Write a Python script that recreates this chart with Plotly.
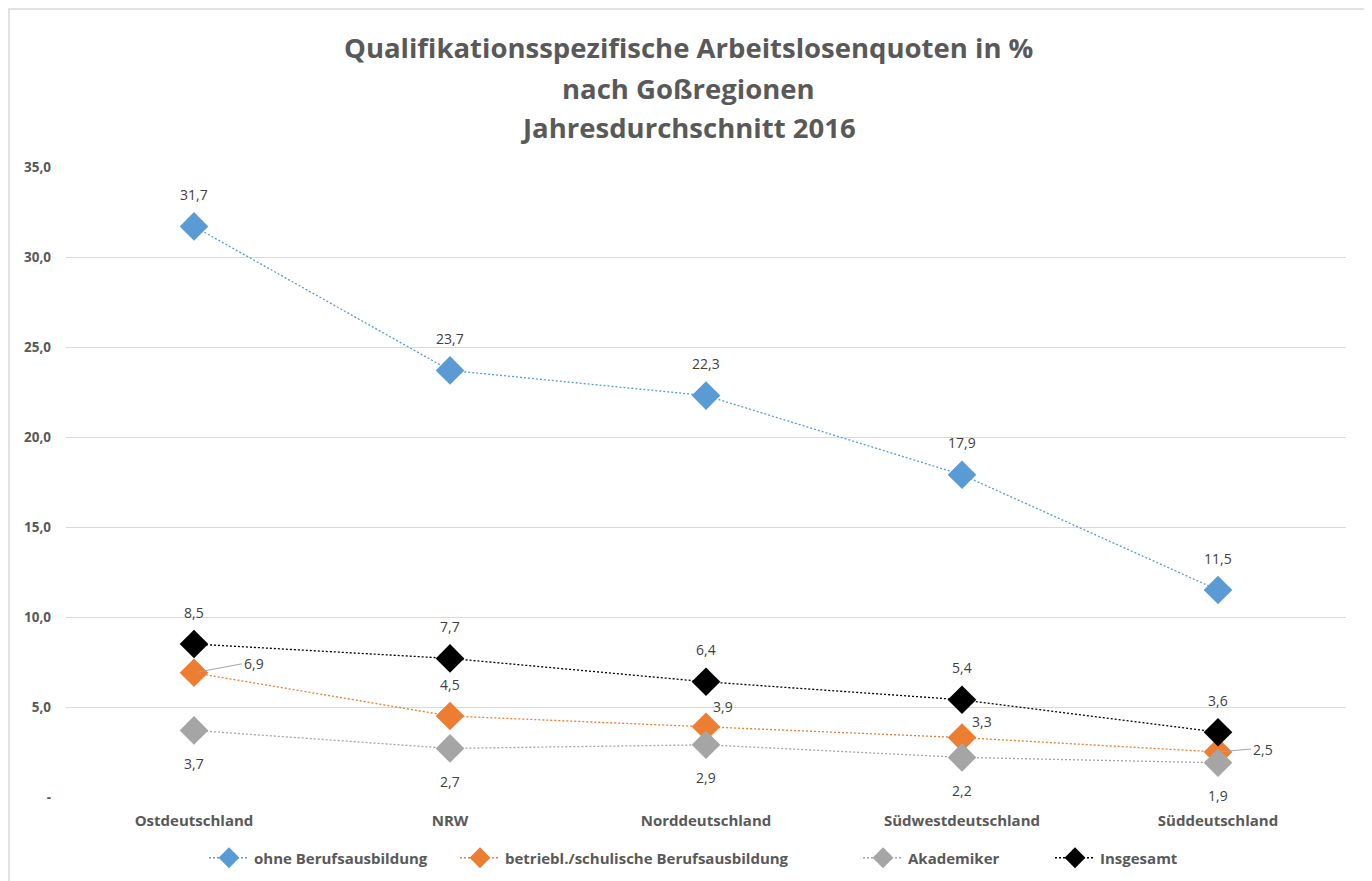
import plotly.graph_objects as go

regions = ["Ostdeutschland", "NRW", "Norddeutschland", "Südwestdeutschland", "Süddeutschland"]
ohne = [31.7, 23.7, 22.3, 17.9, 11.5]
betriebl = [6.9, 4.5, 3.9, 3.3, 2.5]
akademiker = [3.7, 2.7, 2.9, 2.2, 1.9]
insgesamt = [8.5, 7.7, 6.4, 5.4, 3.6]

series_names = ["ohne Berufsausbildung", "betriebl./schulische Berufsausbildung", "Akademiker", "Insgesamt"]
y_ticks = [0, 5, 10, 15, 20, 25, 30, 35]
y_ticktext = ["-", "5,0", "10,0", "15,0", "20,0", "25,0", "30,0", "35,0"]
title_lines = ["Qualifikationsspezifische Arbeitslosenquoten in %", "nach Goßregionen", "Jahresdurchschnitt 2016"]

# ---- styling ----
colors = ["#5B9BD5", "#ED7D31", "#A5A5A5", "#000000"]
# label placement per series/point: (anchor, xshift px, yshift px, leader line)
C_UP = ("center", 0, 32, False)
C_DN = ("center", 0, -33, False)
label_style = [
    [C_UP] * 5,
    [("left", 34, 9, True), C_UP, ("left", 5, 20, False), ("left", 8, 16, False), ("left", 19, 3, True)],
    [C_DN] * 5,
    [C_UP] * 5,
]
legend_left_px = [204, 455, 858, 1050]
FONT = "Open Sans"
GREY = "#595959"

# page body adds an 8px offset, so the figure coordinates are shifted by 8px
OFF = 8
W, H = 1372 - OFF, 881 - OFF
L, R = 66 - OFF, 26
T, B = 167 - OFF, 84
ph = H - T - B
pw = W - L - R


def px_x(x):
    return (x - OFF - L) / pw


def px_y(y):
    return (H - B - (y - OFF)) / ph


fig = go.Figure()
annotations = []
legends = {}
for i, (name, vals, col, styles) in enumerate(zip(series_names, [ohne, betriebl, akademiker, insgesamt], colors, label_style)):
    lg = "legend" if i == 0 else "legend%d" % (i + 1)
    legends[lg] = dict(orientation="h", x=px_x(legend_left_px[i]), xanchor="left", y=px_y(858), yanchor="middle",
                       font=dict(family=FONT, size=15, color=GREY, weight="bold"), itemwidth=40,
                       bgcolor="rgba(0,0,0,0)")
    fig.add_trace(go.Scatter(
        x=regions, y=vals, name=name, mode="lines+markers", legend=lg,
        line=dict(color=col, width=1.3, dash="2px,2px"),
        marker=dict(symbol="diamond", size=22, color=col),
        cliponaxis=False,
    ))
    for xv, yv, (anc, dx, dy, leader) in zip(regions, vals, styles):
        txt = ("%.1f" % yv).replace(".", ",")
        if leader:
            annotations.append(dict(
                x=xv, y=yv, xref="x", yref="y", text=txt, showarrow=True,
                arrowhead=0, arrowwidth=1, arrowcolor="#A5A5A5", standoff=3,
                ax=dx + 14, ay=-dy, xanchor="left", yanchor="middle",
                font=dict(family=FONT, size=14, color="#404040")))
        else:
            annotations.append(dict(
                x=xv, y=yv, xref="x", yref="y", text=txt, showarrow=False,
                xanchor=anc, yanchor="middle", xshift=dx, yshift=dy,
                font=dict(family=FONT, size=14, color="#404040")))

for line, ypx in zip(title_lines, [47, 88, 127]):
    annotations.append(dict(
        text="<b>%s</b>" % line, xref="paper", yref="paper",
        x=px_x(688), y=px_y(ypx), xanchor="center", yanchor="middle", showarrow=False,
        font=dict(family=FONT, size=27.5, color=GREY)))

fig.update_layout(
    width=W, height=H,
    margin=dict(l=L, r=R, t=T, b=B, autoexpand=False),
    paper_bgcolor="white", plot_bgcolor="white",
    showlegend=True,
    xaxis=dict(showgrid=False, showline=False, zeroline=False, ticks="", automargin=False,
               tickfont=dict(family=FONT, size=15, color=GREY, weight="bold"),
               range=[-0.5, 4.5], ticklabelstandoff=13),
    yaxis=dict(range=[0, 35], tickvals=y_ticks, ticktext=y_ticktext, automargin=False,
               showgrid=True, gridcolor="#D9D9D9", gridwidth=1, zeroline=False, showline=False,
               tickfont=dict(family=FONT, size=13.5, color=GREY, weight="bold"), ticks="",
               ticklabelstandoff=14),
    annotations=annotations,
    shapes=[dict(type="rect", xref="paper", yref="paper",
                 x0=px_x(9), x1=px_x(1369), y0=px_y(900), y1=px_y(9),
                 line=dict(color="#D9D9D9", width=1.5), layer="below")],
    **legends,
)
fig.write_html("out.html")
